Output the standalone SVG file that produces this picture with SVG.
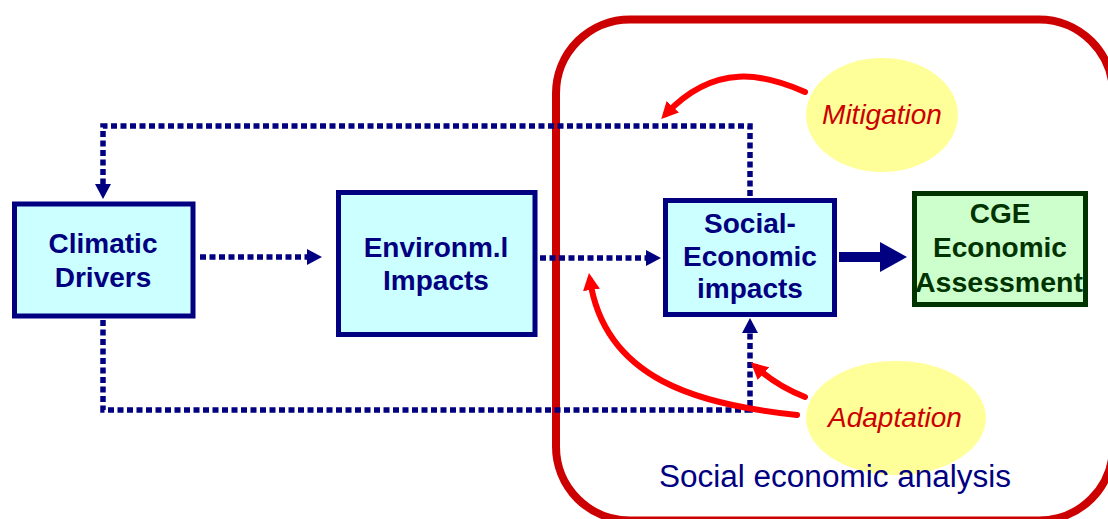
<svg xmlns="http://www.w3.org/2000/svg" width="1108" height="519" viewBox="0 0 1108 519">
<style>
.box{fill:#CCFFFF;stroke:#000080;stroke-width:5}
.cge{fill:#CCFFCC;stroke:#003300;stroke-width:5}
.lbl{font-family:"Liberation Sans",Arial,sans-serif;font-weight:bold;font-size:28px;fill:#000080;text-anchor:middle}
.lblg{fill:#003300}
.oval{fill:#FFFF99}
.ital{font-family:"Liberation Sans",Arial,sans-serif;font-style:italic;font-size:28px;fill:#CC0000;text-anchor:middle}
.dot{fill:none;stroke:#000080;stroke-width:5.5;stroke-dasharray:6 3.5}
.red{fill:none;stroke:#FF0000;stroke-width:6;stroke-linecap:round}
.title{font-family:"Liberation Sans",Arial,sans-serif;font-size:31px;fill:#000080}
</style>
<defs>
<marker id="ah" markerUnits="userSpaceOnUse" markerWidth="15" markerHeight="16" refX="3" refY="8" orient="auto">
<path d="M0,0 L15,8 L0,16 z" fill="#000080"/>
</marker>
<marker id="big" markerUnits="userSpaceOnUse" markerWidth="27" markerHeight="30" refX="5" refY="15" orient="auto">
<path d="M0,0 L27,15 L0,30 z" fill="#000080"/>
</marker>
<marker id="ra" markerUnits="userSpaceOnUse" markerWidth="17" markerHeight="17" refX="10" refY="8.5" orient="auto">
<path d="M0,0 L17,8.5 L0,17 z" fill="#FF0000"/>
</marker>
</defs>

<rect id="frame" x="556" y="19.5" width="557" height="501" rx="74" ry="74" fill="none" stroke="#CC0000" stroke-width="8"/>

<g id="mitigation">
<ellipse class="oval" cx="882" cy="115" rx="76" ry="57"/>
<text class="ital" x="882" y="124">Mitigation</text>
</g>
<g id="adaptation">
<ellipse class="oval" cx="896" cy="418" rx="90" ry="57"/>
<text class="ital" x="895" y="427">Adaptation</text>
</g>

<g id="connectors">
<path class="dot" d="M200,257 H310" marker-end="url(#ah)"/>
<path class="dot" d="M540,258 H649" marker-end="url(#ah)"/>
<path class="dot" d="M750,196 V126 H103 V187" marker-end="url(#ah)"/>
<path class="dot" d="M103,320 V410 H750 V330" marker-end="url(#ah)"/>
<path d="M839,257 H885" stroke="#000080" stroke-width="10" fill="none" marker-end="url(#big)"/>
<path class="red" d="M805,92 C765,74 715,62 666,114" marker-end="url(#ra)"/>
<path class="red" d="M797,415 C700,405 605,380 590,280" marker-end="url(#ra)"/>
<path class="red" d="M805,397 Q777,386 756,367" marker-end="url(#ra)"/>
</g>

<g id="climatic">
<rect class="box" x="14.5" y="204" width="178.5" height="112"/>
<text class="lbl" x="103" y="253">Climatic</text>
<text class="lbl" x="103" y="287">Drivers</text>
</g>
<g id="environ">
<rect class="box" x="338.5" y="192.5" width="196.5" height="142"/>
<text class="lbl" x="436" y="257">Environm.l</text>
<text class="lbl" x="436" y="290">Impacts</text>
</g>
<g id="social">
<rect class="box" x="665.5" y="200.5" width="169" height="114"/>
<text class="lbl" x="750" y="233">Social-</text>
<text class="lbl" x="750" y="266">Economic</text>
<text class="lbl" x="750" y="298">impacts</text>
</g>
<g id="cge">
<rect class="cge" x="914.5" y="193.5" width="171" height="111"/>
<text class="lbl lblg" x="1000" y="223">CGE</text>
<text class="lbl lblg" x="1000" y="257">Economic</text>
<text class="lbl lblg" x="999" y="292" textLength="168" lengthAdjust="spacingAndGlyphs">Assessment</text>
</g>

<text class="title" x="659" y="487" textLength="352" lengthAdjust="spacingAndGlyphs">Social economic analysis</text>
</svg>
